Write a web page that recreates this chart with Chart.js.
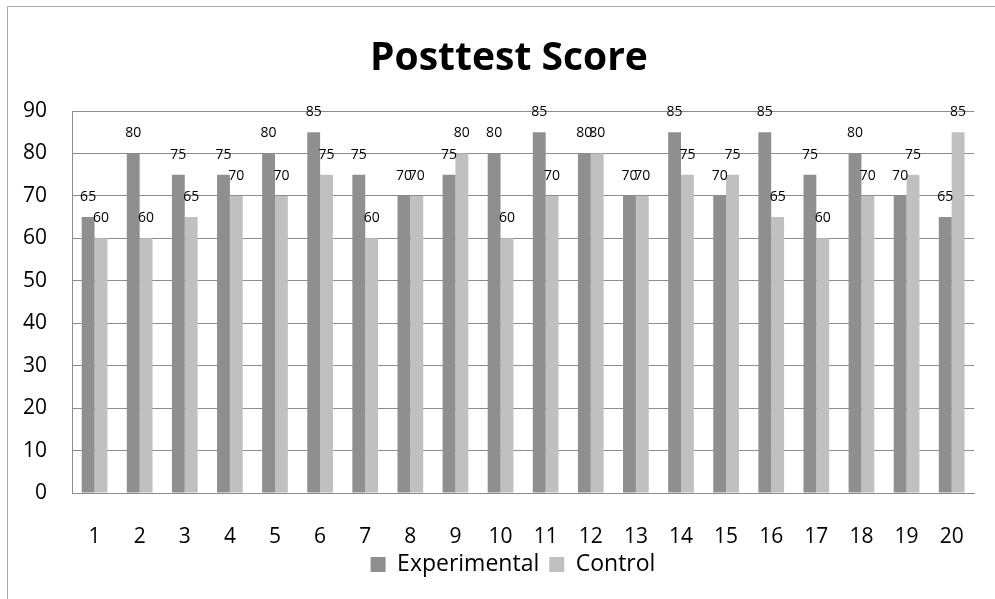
<!DOCTYPE html>
<html>
<head>
<meta charset="utf-8">
<script src="https://cdn.jsdelivr.net/npm/chart.js@4.4.0/dist/chart.umd.min.js"></script>
<style>
  html, body { margin: 0; padding: 0; background: #fff; }
  #wrap { width: 995px; height: 599px; }
</style>
</head>
<body>
<div id="wrap"><canvas id="myChart" width="995" height="599"></canvas></div>
<script>
const categories = ["1","2","3","4","5","6","7","8","9","10","11","12","13","14","15","16","17","18","19","20"];
const experimental = [65,80,75,75,80,85,75,70,75,80,85,80,70,85,70,85,75,80,70,65];
const control = [60,60,65,70,70,75,60,70,80,60,70,80,70,75,75,65,60,70,75,85];
const yTicks = [0,10,20,30,40,50,60,70,80,90];

const fontFamily = "'Open Sans', sans-serif";

// outer frame of the chart object (only top + left edge visible)
const framePlugin = {
	id: 'frame',
	beforeDraw(chart) {
		const ctx = chart.ctx;
		ctx.save();
		ctx.fillStyle = '#fff';
		ctx.fillRect(0, 0, chart.width, chart.height);
		ctx.strokeStyle = '#a6a6a6';
		ctx.lineWidth = 1;
		ctx.beginPath();
		ctx.moveTo(7.5, chart.height);
		ctx.lineTo(7.5, 6.5);
		ctx.lineTo(chart.width, 6.5);
		ctx.stroke();
		ctx.restore();
	}
};

// title and legend sit a bit right of centre in the original
const shiftPlugin = {
	id: 'shift',
	afterLayout(chart) {
		if (chart.titleBlock) {
			chart.titleBlock.left += 18;
			chart.titleBlock.right += 18;
		}
		if (chart.legend) {
			chart.legend.left += 22;
			chart.legend.right += 22;
		}
	}
};

// value labels above each bar
const valueLabels = {
	id: 'valueLabels',
	afterDatasetsDraw(chart) {
		const ctx = chart.ctx;
		ctx.save();
		ctx.font = "14px " + fontFamily;
		ctx.fillStyle = '#000';
		ctx.textAlign = 'center';
		ctx.textBaseline = 'middle';
		chart.data.datasets.forEach((ds, i) => {
			chart.getDatasetMeta(i).data.forEach((bar, j) => {
				ctx.fillText(String(ds.data[j]), bar.x, bar.y - 20);
			});
		});
		ctx.restore();
	}
};

const myChart = new Chart(document.getElementById('myChart').getContext('2d'), {
	type: 'bar',
	data: {
		labels: categories,
		datasets: [{
			label: 'Experimental',
			data: experimental,
			backgroundColor: '#8f8f8f',
			borderWidth: 0
		}, {
			label: 'Control',
			data: control,
			backgroundColor: '#c0c0c0',
			borderWidth: 0
		}]
	},
	options: {
		responsive: false,
		animation: false,
		layout: { padding: { left: 0, right: 13, top: 0, bottom: 13 } },
		datasets: { bar: { barPercentage: 1, categoryPercentage: 0.57 } },
		plugins: {
			title: {
				display: true,
				text: 'Posttest Score',
				color: '#000',
				font: { family: fontFamily, size: 39, weight: 'bold' },
				padding: { top: 35.6, bottom: 28.6 }
			},
			legend: {
				position: 'bottom',
				labels: {
					color: '#000',
					font: { family: fontFamily, size: 23 },
					boxWidth: 15,
					boxHeight: 15,
					padding: 10
				}
			},
			tooltip: { enabled: false }
		},
		scales: {
			x: {
				grid: { display: false, drawTicks: false },
				border: { display: true, color: '#8c8c8c' },
				ticks: { color: '#000', font: { family: fontFamily, size: 21 }, padding: 31, maxRotation: 0, autoSkip: false },
				afterFit(scale) { scale.height = 50; }
			},
			y: {
				min: 0,
				max: 90,
				afterBuildTicks(scale) { scale.ticks = yTicks.map(v => ({ value: v })); },
				grid: { color: '#8c8c8c', drawTicks: false },
				border: { display: true, color: '#8c8c8c' },
				ticks: { color: '#000', font: { family: fontFamily, size: 21 }, padding: 25 },
				afterFit(scale) { scale.width = 72; }
			}
		}
	},
	plugins: [framePlugin, shiftPlugin, valueLabels]
});
</script>
</body>
</html>
